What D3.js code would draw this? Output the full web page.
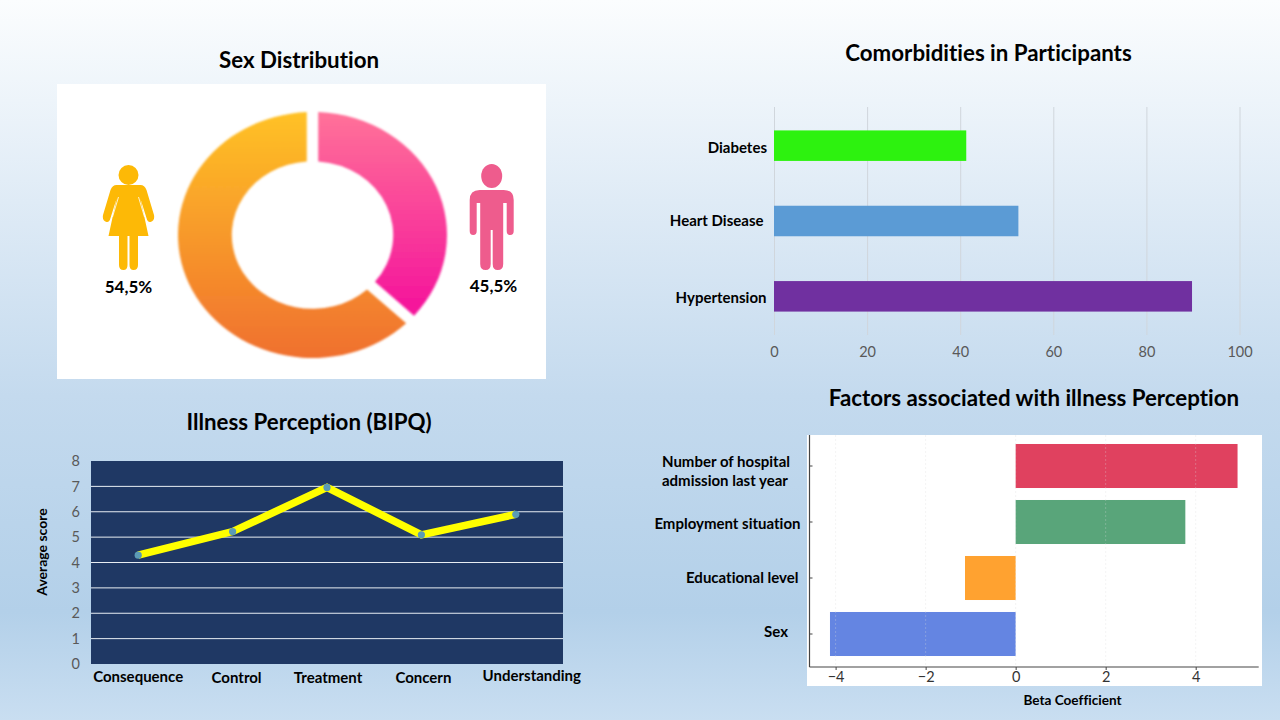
<!DOCTYPE html>
<html>
<head>
<meta charset="utf-8">
<script src="https://d3js.org/d3.v7.min.js"></script>
<style>
    body { margin: 0; background: #c8dcf0; }
    svg { display: block; font-family: Lato, "Open Sans", sans-serif; font-variant-ligatures: none; }
    text { fill: #000; }
    .title { font-size: 22.3px; font-weight: 700; text-anchor: middle; }
    .cat { font-size: 15px; font-weight: 700; }
    .tick-gray text { fill: #595959; font-size: 14.5px; font-family: Lato, sans-serif; }
    .domain { display: none; }
</style>
</head>
<body>
<svg id="chart" width="1280" height="720"></svg>
<script>
// donut: drawn shares, labels as printed
const sexNames = ["Male", "Female"];
const sexShares = [36.7, 63.3];
const sexLabels = ["45,5%", "54,5%"];

// comorbidities
const comorbidNames = ["Diabetes", "Heart Disease", "Hypertension"];
const comorbidValues = [41.3, 52.5, 89.8];
const comorbidColors = ["#2df20f", "#5b9bd5", "#7030a0"];
const comorbidTicks = [0, 20, 40, 60, 80, 100];

// illness perception
const bipqNames = ["Consequence", "Control", "Treatment", "Concern", "Understanding"];
const bipqValues = [4.29, 5.22, 6.96, 5.09, 5.9];
const bipqTicks = [0, 1, 2, 3, 4, 5, 6, 7, 8];

// regression
const betaNames = ["Number of hospital admission last year", "Employment situation", "Educational level", "Sex"];
const betaValues = [4.93, 3.77, -1.125, -4.125];
const betaColors = ["#e0415f", "#59a57a", "#ffa230", "#6485e2"];
const betaTicks = [-4, -2, 0, 2, 4];

const svg = d3.select("#chart");
const defs = svg.append("defs");

function gradient(id, stops, attrs) {
    const g = defs.append("linearGradient").attr("id", id);
    Object.entries(attrs).forEach(([k, v]) => g.attr(k, v));
    stops.forEach(s => g.append("stop").attr("offset", s[0]).attr("stop-color", s[1]));
}

gradient("bg", [[0, "#fbfdfe"], [0.28, "#dfebf6"], [0.55, "#c4daee"], [0.85, "#b3d0e9"], [1, "#c9def1"]],
    { x1: 0, y1: 0, x2: 0, y2: 1 });
gradient("orangeGrad", [[0, "#ffc226"], [1, "#f0702f"]],
    { gradientUnits: "userSpaceOnUse", x1: 0, y1: -100, x2: 0, y2: 100 });
gradient("pinkGrad", [[0, "#ff7299"], [1, "#f40f9b"]],
    { gradientUnits: "userSpaceOnUse", x1: 0, y1: -100, x2: 0, y2: 70 });
defs.append("filter").attr("id", "soft")
    .append("feGaussianBlur").attr("stdDeviation", 0.8);

svg.append("rect").attr("width", 1280).attr("height", 720).attr("fill", "url(#bg)");

function title(txt, x, y) {
    svg.append("text").attr("class", "title").attr("x", x).attr("y", y).text(txt);
}

// --- Sex Distribution ---
title("Sex Distribution", 299, 68);
svg.append("rect").attr("x", 57).attr("y", 84).attr("width", 489).attr("height", 295).attr("fill", "#fff");

const pie = d3.pie().sort(null).padAngle(0.085);
const arc = d3.arc().innerRadius(60).outerRadius(100).padRadius(100);
const donut = svg.append("g").attr("filter", "url(#soft)")
    .append("g").attr("transform", "translate(312.5,235) scale(1.345,1.23)");
donut.selectAll("path")
    .data(pie(sexShares))
    .enter().append("path")
    .attr("d", arc)
    .attr("fill", (d, i) => sexNames[i] === "Male" ? "url(#pinkGrad)" : "url(#orangeGrad)");

// female icon
const female = svg.append("g").attr("transform", "translate(128.5,175)").attr("fill", "#fdb906");
female.append("circle").attr("r", 10);
female.append("path").attr("d", "M-12,10 H12 Q16,10 18,15 L25.5,40 Q26.5,46 22,47 Q19,47.5 18,43 L12,24 L20,61 H9.5 V90 Q9.5,95 5,95 Q1,95 1,90 V61 H-1 V90 Q-1,95 -5,95 Q-9.5,95 -9.5,90 V61 H-20 L-12,24 L-18,43 Q-19,47.5 -22,47 Q-26.5,46 -25.5,40 L-18,15 Q-16,10 -12,10 Z");
female.append("path").attr("d", "M-10,22 L-16,42 M10,22 L16,42").attr("stroke", "#fff").attr("stroke-width", 0.8).attr("fill", "none");

// male icon
const male = svg.append("g").attr("transform", "translate(491.7,176)").attr("fill", "#ee5c8d");
male.append("ellipse").attr("rx", 10.5).attr("ry", 12);
male.append("path").attr("d", "M-12,14 H12 Q22,14 22,24 V55 Q22,59 18.5,59 Q15,59 15,55 V27 H11.5 V88 Q11.5,94 6,94 Q1,94 1,88 V54 H-1 V88 Q-1,94 -6,94 Q-11.5,94 -11.5,88 V27 H-15 V55 Q-15,59 -18.5,59 Q-22,59 -22,55 V24 Q-22,14 -12,14 Z");

svg.append("text").attr("x", 128.5).attr("y", 293).attr("text-anchor", "middle")
    .style("font-size", "17px").style("font-weight", 700).text(sexLabels[1]);
svg.append("text").attr("x", 493.5).attr("y", 292).attr("text-anchor", "middle")
    .style("font-size", "17px").style("font-weight", 700).text(sexLabels[0]);

// --- Comorbidities ---
title("Comorbidities in Participants", 988.5, 61);
const cx = d3.scaleLinear().domain([0, 100]).range([774, 1239.5]);
const cy = d3.scaleBand().domain(comorbidNames).range([108, 334]).paddingInner(0.595).paddingOuter(0.2975);

const cAxis = svg.append("g").attr("class", "tick-gray").attr("transform", "translate(0,335)")
    .call(d3.axisBottom(cx).tickValues(comorbidTicks).tickSize(-228).tickPadding(12));
cAxis.selectAll("line").attr("stroke", "#d0d6dc");

svg.append("g").selectAll("rect")
    .data(comorbidNames)
    .enter().append("rect")
    .attr("x", cx(0))
    .attr("y", d => cy(d))
    .attr("width", (d, i) => cx(comorbidValues[i]) - cx(0))
    .attr("height", cy.bandwidth())
    .attr("fill", (d, i) => comorbidColors[i]);

const cLabelRight = [767, 763.5, 766.5];
const cLabelDy = [7, 5, 7];
svg.append("g").selectAll("text")
    .data(comorbidNames)
    .enter().append("text")
    .attr("class", "cat")
    .attr("text-anchor", "end")
    .attr("x", (d, i) => cLabelRight[i])
    .attr("y", (d, i) => cy(d) + cy.bandwidth() / 2 + cLabelDy[i])
    .text(d => d);

// --- Illness Perception ---
title("Illness Perception (BIPQ)", 309, 430);
const lx = d3.scaleBand().domain(bipqNames).range([91, 563]);
const ly = d3.scaleLinear().domain([0, 8]).range([664, 461]);

svg.append("rect").attr("x", 91).attr("y", 461).attr("width", 472).attr("height", 203).attr("fill", "#1f3864");

const lAxis = svg.append("g").attr("class", "tick-gray").attr("transform", "translate(91,0)")
    .call(d3.axisLeft(ly).tickValues(bipqTicks).tickSize(0).tickPadding(11));
svg.append("g").selectAll("line")
    .data(bipqTicks.filter(t => t > 0 && t < 8))
    .enter().append("line")
    .attr("x1", 91).attr("x2", 563)
    .attr("y1", d => ly(d)).attr("y2", d => ly(d))
    .attr("stroke", "#e8edf3");

const line = d3.line().x((d, i) => lx(bipqNames[i]) + lx.bandwidth() / 2).y(d => ly(d));
svg.append("path").attr("d", line(bipqValues)).attr("fill", "none")
    .attr("stroke", "#ffff00").attr("stroke-width", 7.5).attr("stroke-linejoin", "miter");
svg.append("g").selectAll("circle")
    .data(bipqValues)
    .enter().append("circle")
    .attr("cx", (d, i) => lx(bipqNames[i]) + lx.bandwidth() / 2)
    .attr("cy", d => ly(d))
    .attr("r", 3.6)
    .attr("fill", "#5b9bb5");

// the labels were nudged by hand in the original
const lLabelDx = [0, 4, 1, 2, 16];
const lLabelY = [682, 683, 683, 683, 681];
svg.append("g").selectAll("text")
    .data(bipqNames)
    .enter().append("text")
    .attr("class", "cat")
    .attr("text-anchor", "middle")
    .attr("x", (d, i) => lx(d) + lx.bandwidth() / 2 + lLabelDx[i])
    .attr("y", (d, i) => lLabelY[i])
    .text(d => d);

svg.append("text").attr("class", "cat")
    .attr("transform", "translate(47,552) rotate(-90)")
    .attr("text-anchor", "middle")
    .style("font-size", "14px")
    .text("Average score");

// --- Factors ---
title("Factors associated with illness Perception", 1034, 406);
svg.append("rect").attr("x", 807).attr("y", 435).attr("width", 455).attr("height", 251).attr("fill", "#fff");

const bx = d3.scaleLinear().domain([-4.58, 5.4]).range([809.5, 1258.7]);
const by = d3.scaleBand().domain(betaNames).range([438, 662]).paddingInner(0.214).paddingOuter(0.107);

svg.append("g").selectAll("rect")
    .data(betaNames)
    .enter().append("rect")
    .attr("x", (d, i) => Math.min(bx(0), bx(betaValues[i])))
    .attr("y", d => by(d))
    .attr("width", (d, i) => Math.abs(bx(betaValues[i]) - bx(0)))
    .attr("height", by.bandwidth())
    .attr("fill", (d, i) => betaColors[i]);

svg.append("g").selectAll("line")
    .data(betaTicks)
    .enter().append("line")
    .attr("x1", d => bx(d)).attr("x2", d => bx(d))
    .attr("y1", 435).attr("y2", 667)
    .attr("stroke", "#dcdcdc").attr("stroke-opacity", 0.3).attr("stroke-dasharray", "2,2");

const bBottom = svg.append("g").attr("transform", "translate(0,667)")
    .call(d3.axisBottom(bx).tickValues(betaTicks).tickSize(3).tickPadding(2).tickFormat(d => d3.format("d")(d).replace("-", "\u2212")));
bBottom.selectAll("text").style("font-size", "14.5px").style("font-family", "Lato, sans-serif").style("fill", "#333");
bBottom.selectAll("line").attr("stroke", "#444");
svg.append("line").attr("x1", 809.5).attr("x2", 1258.7).attr("y1", 667).attr("y2", 667).attr("stroke", "#444").attr("stroke-width", 1.2);
svg.append("line").attr("x1", 809.5).attr("x2", 809.5).attr("y1", 435).attr("y2", 667).attr("stroke", "#444").attr("stroke-width", 1.2);
svg.append("g").selectAll("line")
    .data(betaNames)
    .enter().append("line")
    .attr("x1", 809.5).attr("x2", 812.5)
    .attr("y1", d => by(d) + by.bandwidth() / 2).attr("y2", d => by(d) + by.bandwidth() / 2)
    .attr("stroke", "#444");

// category labels sit apart from the ticks, like pasted text boxes
const betaLabelLines = [["Number of hospital", "admission last year"], ["Employment situation"], ["Educational level"], ["Sex"]];
const betaLabelRight = [790, 800.5, 798.5, 788];
const betaLabelY = [467, 529, 583, 637];
betaLabelLines.forEach((lines, i) => {
    lines.forEach((s, j) => {
        svg.append("text").attr("class", "cat")
            .attr("text-anchor", i === 0 ? "start" : "end")
            .attr("x", i === 0 ? 662 : betaLabelRight[i])
            .attr("y", betaLabelY[i] + j * 19)
            .text(s);
    });
});

svg.append("text").attr("class", "cat")
    .attr("x", 1072.5).attr("y", 705)
    .attr("text-anchor", "middle")
    .style("font-size", "13.6px")
    .text("Beta Coefficient");
</script>
</body>
</html>
